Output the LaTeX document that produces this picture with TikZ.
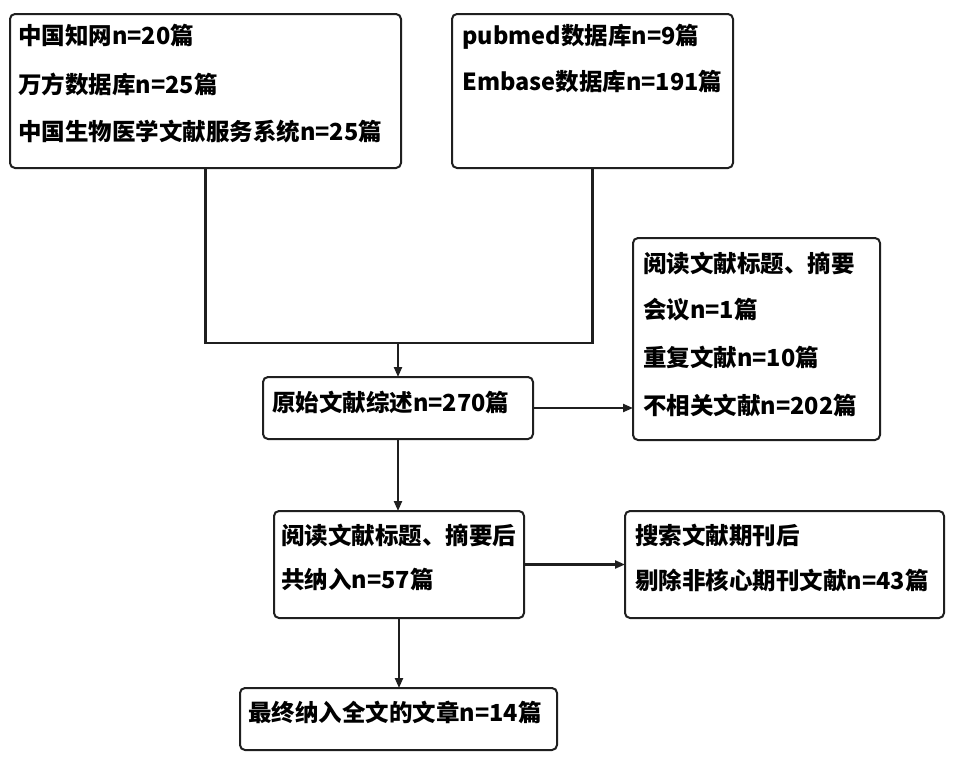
\documentclass[tikz,border=0pt]{standalone}
\usepackage{fontspec}
\setmainfont{Noto Sans CJK SC}
\usetikzlibrary{arrows.meta,calc}
\begin{document}
\begin{tikzpicture}[x=1pt,y=-1pt,
  box/.style={draw=black!88,line width=2pt,rounded corners=5pt,rectangle,anchor=north west,inner sep=0pt,outer sep=0pt},
  txt/.style={anchor=west,inner sep=0pt,font=\fontsize{23.5}{27}\selectfont\bfseries},
  conn/.style={draw=black!88,line width=2.2pt},
  arr/.style={conn,-{Triangle[length=10pt,width=8pt]}}]
\useasboundingbox (0,0) rectangle (954,763);
% boxes
\node[box,minimum width=391pt,minimum height=154pt] (b1) at (10,14) {};
\node[box,minimum width=281pt,minimum height=154pt] (b2) at (452,14) {};
\node[box,minimum width=270pt,minimum height=62pt] (b3) at (263,377) {};
\node[box,minimum width=247pt,minimum height=202pt] (b4) at (633,238) {};
\node[box,minimum width=250pt,minimum height=107pt] (b5) at (274,511) {};
\node[box,minimum width=319pt,minimum height=107pt] (b6) at (625,511) {};
\node[box,minimum width=317pt,minimum height=62pt] (b7) at (240,688) {};
% texts
\node[txt] (t1a) at (18,36) {中国知网n=20篇};
\node[txt] (t1b) at (18,84) {万方数据库n=25篇};
\node[txt] (t1c) at (18,132) {中国生物医学文献服务系统n=25篇};
\node[txt] (t2a) at (462,37) {pubmed数据库n=9篇};
\node[txt] (t2b) at (462,82) {Embase数据库n=191篇};
\node[txt] (t3a) at (272,402) {原始文献综述n=270篇};
\node[txt] (t4a) at (643,263) {阅读文献标题、摘要};
\node[txt] (t4b) at (643,310) {会议n=1篇};
\node[txt] (t4c) at (643,357) {重复文献n=10篇};
\node[txt] (t4d) at (643,405) {不相关文献n=202篇};
\node[txt] (t5a) at (281,535) {阅读文献标题、摘要后};
\node[txt] (t5b) at (281,580) {共纳入n=57篇};
\node[txt] (t6a) at (635,535) {搜索文献期刊后};
\node[txt] (t6b) at (635,580) {剔除非核心期刊文献n=43篇};
\node[txt] (t7a) at (248,712) {最终纳入全文的文章n=14篇};
% connectors
\coordinate (j) at (b3.north |- 0,343);
\draw[conn] (b1.south) |- (j) -| (b2.south);
\draw[arr] (j) -- (b3.north);
\draw[arr] (b3.east) -- (b3.east -| b4.west);
\draw[arr] (b3.south) -- (b3.south |- b5.north);
\draw[arr] (b5.east) -- (b5.east -| b6.west);
\draw[arr] (b5.south) -- (b5.south |- b7.north);
\end{tikzpicture}
\end{document}
